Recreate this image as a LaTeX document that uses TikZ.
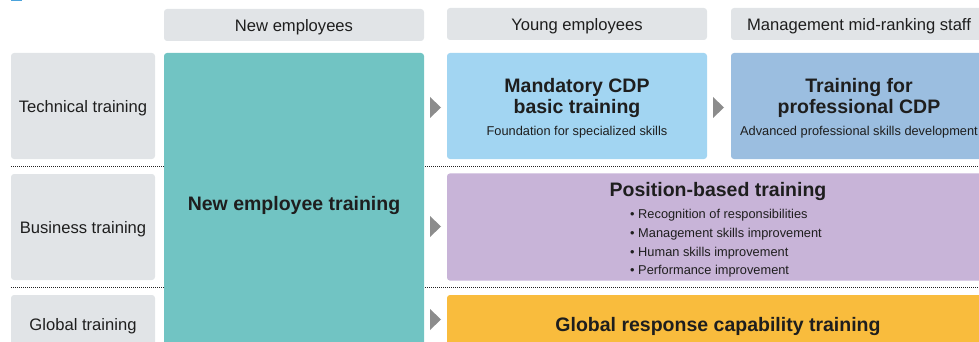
\documentclass[tikz,border=0pt]{standalone}
\usepackage{fontspec}
\setmainfont{Liberation Sans}
\definecolor{hdrgray}{HTML}{E1E4E7}
\definecolor{tealbox}{HTML}{71C4C3}
\definecolor{lblue}{HTML}{A2D5F2}
\definecolor{sblue}{HTML}{9BBEE0}
\definecolor{lpurple}{HTML}{C8B4D8}
\definecolor{goldbox}{HTML}{F9BC3D}
\definecolor{arrgray}{HTML}{8C8C8C}
\definecolor{txt}{HTML}{1E1E1E}
\definecolor{iconblue}{HTML}{4BA3DB}
\definecolor{dotcol}{HTML}{222222}
\newcommand{\ttlfont}{\fontsize{19.5}{21}\selectfont\bfseries}
\newcommand{\smfont}{\fontsize{12.8}{15}\selectfont\mdseries}
\newcommand{\bulfont}{\fontsize{12.8}{18.7}\selectfont\mdseries}
\newcommand{\topstrut}{\rule{0pt}{19pt}}
\newcommand{\topstrutb}{\rule{0pt}{23pt}}
\begin{document}
\begin{tikzpicture}[x=1pt,y=-1pt,
  box/.style={rectangle, rounded corners=3pt, inner sep=0pt, text=txt, align=center, anchor=center},
  hdr/.style={box, fill=hdrgray, font=\fontsize{16.6}{20}\selectfont, text depth=0pt},
  ttl/.style={font=\ttlfont, text depth=0pt},
  dotline/.style={dotcol, line width=1.1pt, dash pattern=on 1pt off 1pt},
  tri/.style={fill=arrgray}
]
\useasboundingbox (0,0) rectangle (979,342);
\clip (0,0) rectangle (979,342);
% title icon fragment
\fill[iconblue] (11,0) rectangle (22,1.3);
% header boxes
\node[hdr, minimum width=260, minimum height=32] (h1) at (294,25) {New employees};
\node[hdr, minimum width=260, minimum height=32] (h2) at (577,24) {Young employees};
\node[hdr, minimum width=256, minimum height=32] (h3) at (859,24) {Management mid-ranking staff};
% dotted separators
\draw[dotline] (11,166.5) -- (979,166.5);
\draw[dotline] (11,287.5) -- (979,287.5);
% row labels
\node[hdr, minimum width=144, minimum height=106] (r1) at (83,106) {Technical training};
\node[hdr, minimum width=144, minimum height=106] (r2) at (83,227) {Business training};
\node[hdr, minimum width=144, minimum height=58] (r3) at (83,324) {Global training};
% new employee training
\node[box, fill=tealbox, minimum width=260, minimum height=300, ttl] (net) at (294,203) {New employee training};
% technical row
\node[box, fill=lblue, minimum width=260, minimum height=106, font=\ttlfont] (b1) at (577,106)
  {\topstrut Mandatory CDP\\ basic training\\[1pt] \smfont Foundation for specialized skills};
\node[box, fill=sblue, minimum width=256, minimum height=106, font=\ttlfont] (b2) at (859,106)
  {\topstrut Training for\\ professional CDP\\[1pt] \smfont Advanced professional skills development};
% business row
\node[box, fill=lpurple, minimum width=542, minimum height=106, font=\ttlfont] (pb) at (718,227)
  {\topstrutb Position-based training\\[1.5pt]
   \bulfont\hspace*{16pt}\begin{tabular}[t]{@{}l@{}}
   • Recognition of responsibilities\\
   • Management skills improvement\\
   • Human skills improvement\\
   • Performance improvement\end{tabular}};
% global row
\node[box, fill=goldbox, minimum width=542, minimum height=58, ttl] (gb) at (718,324) {Global response capability training};
% arrow triangles
\fill[tri] (430,97) -- (441,107.5) -- (430,118) -- cycle;
\fill[tri] (713,97) -- (724,107.5) -- (713,118) -- cycle;
\fill[tri] (430,216) -- (441,226.5) -- (430,237) -- cycle;
\fill[tri] (430,309) -- (441,319.5) -- (430,330) -- cycle;
\end{tikzpicture}
\end{document}
